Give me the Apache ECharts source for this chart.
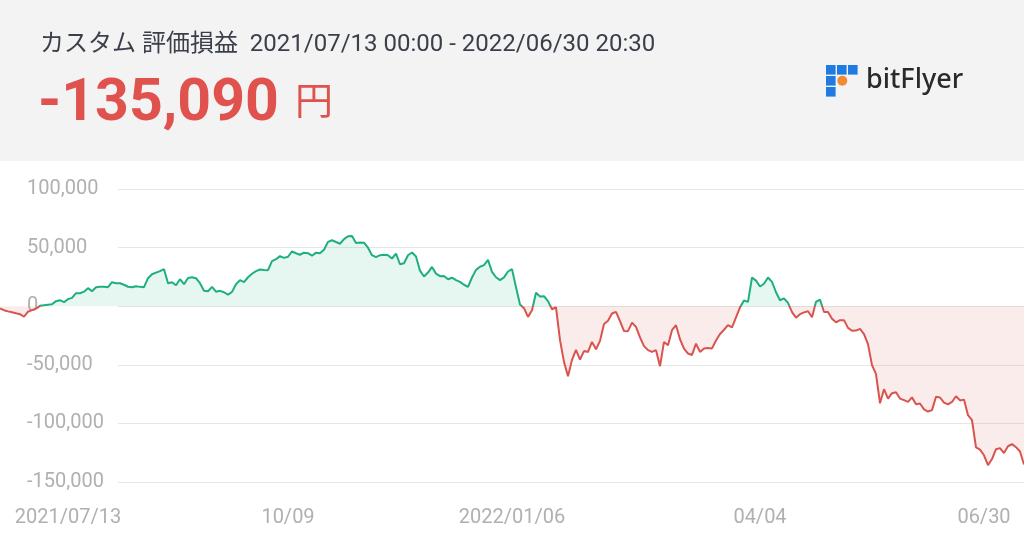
<!DOCTYPE html>
<html>
<head>
<meta charset="utf-8">
<style>
  html, body { margin: 0; padding: 0; background: #fff; }
  #chart { width: 1024px; height: 537px; }
</style>
<script src="https://cdn.jsdelivr.net/npm/echarts@6/dist/echarts.min.js"></script>
</head>
<body>
<div id="chart"></div>
<script>
// 評価損益 (yen), one sample every ~1.4 days
const pnl = [
  -2000, -3400, -4400, -5100, -6000, -6800, -9000, -4700, -3400, -2100,
  300, 900, 1300, 1700, 4300, 5100, 3400, 6000, 7100, 11100,
  11100, 12400, 15400, 12800, 16200, 16600, 16600, 16200, 20500, 19600,
  19600, 18300, 16600, 16200, 17100, 16500, 16200, 23900, 27300, 28600,
  29900, 31600, 19600, 20500, 17900, 23000, 18800, 24100, 24700, 23900,
  19600, 13200, 12800, 16500, 12400, 13100, 11900, 9800, 12200, 18800,
  22200, 20500, 24700, 27700, 29900, 31300, 30900, 30700, 38400, 40100,
  42700, 41200, 42200, 46700, 45200, 43900, 45700, 45200, 43100, 45700,
  45200, 48200, 54900, 56300, 54800, 53300, 57200, 59700, 59800, 54000,
  54400, 54200, 49900, 43500, 41800, 43500, 43900, 43500, 40700, 44800,
  35800, 36700, 43500, 45800, 42400, 30300, 25300, 28700, 33500, 27800,
  25600, 25800, 23000, 24300, 22200, 20700, 18300, 16500, 24500, 31000,
  33700, 35000, 39500, 29300, 24700, 22200, 24600, 29600, 31600, 16200,
  1500, -1700, -9100, -3400, 11400, 8300, 8500, 4300, -2600, -900,
  -29000, -47500, -59700, -45800, -37300, -45500, -38300, -39000, -30500, -36700,
  -29600, -15200, -12400, -6200, -4800, -12800, -21200, -21300, -14000, -17600,
  -26600, -34100, -37500, -39000, -37500, -51200, -30500, -33300, -20500, -16200,
  -28200, -36200, -40400, -41600, -32000, -39000, -36000, -35600, -36000, -29300,
  -23700, -20100, -16200, -18100, -9600, -1000, 4800, 3700, 24500, 21800,
  16800, 19200, 24500, 20800, 11900, 5100, 6700, 2800, -5000, -9800,
  -6800, -5300, -4300, -9400, 3700, 5700, -4900, -4900, -10800, -13800,
  -11900, -11900, -18500, -21000, -20800, -19400, -23900, -32400, -50300, -58000,
  -82800, -70800, -78800, -74200, -73400, -78800, -80200, -81700, -77800, -83600,
  -83000, -88000, -89900, -88700, -77300, -77900, -82300, -83800, -81700, -76800,
  -80400, -79700, -93000, -97300, -120500, -122400, -127200, -135700, -130400, -122000,
  -121100, -125300, -119500, -117700, -120300, -124000, -135090
]
const tickAt = [17, 72, 128, 190, 246]
const tickLabels = ['2021/07/13', '10/09', '2022/01/06', '04/04', '06/30']
const yMin = -150000
const yMax = 100000
const yStep = 50000

const titleText = 'カスタム 評価損益  2021/07/13 00:00 - 2022/06/30 20:30'
const totalText = '-135,090'

const green = '#1db07e'
const red = '#d9534f'
const font = 'Roboto, "Noto Sans CJK JP", sans-serif'
const blue = '#1f7ae2'

const chart = echarts.init(document.getElementById('chart'))
chart.setOption({
  backgroundColor: '#ffffff',
  animation: false,
  grid: [
    { left: 118, right: 0, top: 189, bottom: 55 },
    { left: 0, right: 0, top: 189, bottom: 55 }
  ],
  xAxis: [
    { gridIndex: 0, type: 'value', show: false },
    {
      gridIndex: 1,
      type: 'category',
      boundaryGap: false,
      data: pnl.map((v, i) => i),
      axisLine: { show: false },
      axisTick: { show: false },
      axisLabel: {
        interval: (i) => tickAt.indexOf(i) >= 0,
        formatter: (v, i) => tickLabels[tickAt.indexOf(i)] || '',
        color: '#b0b0b0',
        fontSize: 20,
        fontFamily: font,
        margin: 26
      }
    }
  ],
  yAxis: [
    {
      gridIndex: 0,
      type: 'value',
      min: yMin,
      max: yMax,
      interval: yStep,
      axisLine: { show: false },
      axisTick: { show: false },
      splitLine: { lineStyle: { color: '#e6e6e6', width: 1 } },
      axisLabel: {
        align: 'left',
        margin: 91,
        color: '#b0b0b0',
        fontSize: 20,
        fontFamily: font,
        formatter: (v) => v.toLocaleString('en-US')
      }
    },
    {
      gridIndex: 1,
      type: 'value',
      min: yMin,
      max: yMax,
      interval: yStep,
      show: false
    }
  ],
  visualMap: {
    type: 'piecewise',
    show: false,
    seriesIndex: 0,
    dimension: 1,
    pieces: [
      { gt: 0, lte: yMax, color: green },
      { gt: yMin, lte: 0, color: red }
    ]
  },
  series: [
    {
      type: 'line',
      xAxisIndex: 1,
      yAxisIndex: 1,
      data: pnl,
      symbol: 'none',
      lineStyle: { width: 2 },
      areaStyle: { opacity: 0.11 },
      z: 3
    }
  ],
  graphic: [
    {
      type: 'rect',
      left: 0,
      top: 0,
      z: -1,
      shape: { width: 1024, height: 161 },
      style: { fill: '#f3f3f3' }
    },
    {
      type: 'text',
      left: 40,
      top: 33,
      style: { text: titleText, fill: '#3a3f4a', fontSize: 24, fontFamily: font }
    },
    {
      type: 'text',
      left: 38,
      top: 76,
      style: { text: totalText, fill: '#e0524e', fontSize: 59, fontWeight: 'bold', fontFamily: font }
    },
    {
      type: 'text',
      left: 295,
      top: 85,
      style: { text: '円', fill: '#e0524e', fontSize: 38, fontFamily: font }
    },
    // bitFlyer logo
    {
      type: 'group',
      left: 826,
      top: 65,
      children: [
        { type: 'rect', shape: { x: 0, y: 0, width: 9.6, height: 9.6 }, style: { fill: blue } },
        { type: 'rect', shape: { x: 11, y: 0, width: 9.6, height: 9.6 }, style: { fill: blue } },
        { type: 'rect', shape: { x: 22, y: 0, width: 9.6, height: 9.6 }, style: { fill: blue } },
        { type: 'rect', shape: { x: 0, y: 11, width: 9.6, height: 9.6 }, style: { fill: blue } },
        { type: 'circle', shape: { cx: 16.3, cy: 15.8, r: 5 }, style: { fill: '#f08a35' } },
        { type: 'rect', shape: { x: 0, y: 22, width: 9.6, height: 9.6 }, style: { fill: blue } }
      ]
    },
    {
      type: 'text',
      left: 866,
      top: 67,
      style: { text: 'bitFlyer', fill: '#2a2a2a', fontSize: 27, fontWeight: 500, fontFamily: '"Noto Sans", sans-serif' }
    }
  ]
})
</script>
</body>
</html>
